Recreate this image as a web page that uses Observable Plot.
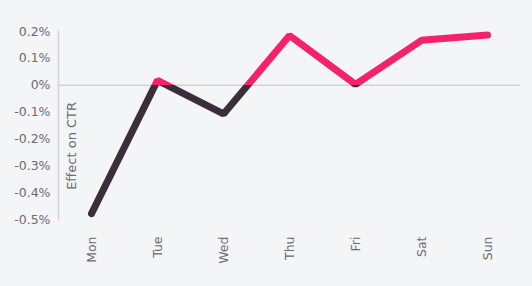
<!DOCTYPE html>
<html>
<head>
<meta charset="utf-8">
<script src="https://cdn.jsdelivr.net/npm/d3@7"></script>
<script src="https://cdn.jsdelivr.net/npm/@observablehq/plot@0.6"></script>
<style>
  html, body { margin: 0; padding: 0; background: #f4f5f7; }
  #chart { width: 532px; height: 286px; }
</style>
</head>
<body>
<div id="chart"></div>
<script>
const days = ["Mon", "Tue", "Wed", "Thu", "Fri", "Sat", "Sun"];
const effect = [-0.478, 0.018, -0.107, 0.185, 0.003, 0.167, 0.187];
const yTicks = [0.2, 0.1, 0, -0.1, -0.2, -0.3, -0.4, -0.5];
const yLabel = "Effect on CTR";

const data = days.map((d, i) => ({day: d, value: effect[i]}));

const chart = Plot.plot({
  width: 532,
  height: 286,
  marginLeft: 58,
  marginRight: 12,
  marginTop: 31,
  marginBottom: 67,
  style: {background: "#f4f5f7", fontFamily: "'DejaVu Sans', sans-serif", fontSize: "12.5px", color: "#6b6a75"},
  x: {type: "point", domain: days, padding: 0.5},
  y: {domain: [-0.5, 0.2]},
  marks: [
    Plot.ruleY([0], {stroke: "#d2d3d8", strokeWidth: 1.5}),
    Plot.axisY({ticks: yTicks, tickFormat: d => `${+d.toFixed(1)}%`, tickSize: 0, tickPadding: 8, label: null, fill: "#6b6a75"}),
    Plot.frame({anchor: "left", stroke: "#d2d3d8", strokeWidth: 1.5}),
    Plot.axisX({tickRotate: -90, tickSize: 0, tickPadding: 17, label: null, fill: "#6b6a75"}),
    Plot.text([yLabel], {frameAnchor: "left", textAnchor: "middle", y: [-0.226], dx: 13, rotate: -90, text: d => d, fill: "#6b6a75", fontSize: 13}),
    Plot.lineY(data, {x: "day", y: "value", stroke: "url(#ctrgrad)", strokeWidth: 7, strokeLinecap: "round", strokeLinejoin: "miter"})
  ]
});

// zero-split gradient from the y scale
const yScale = chart.scale("y");
const y0 = yScale.apply(0);
const yTop = yScale.apply(0.2);
const yBot = yScale.apply(-0.5);
const svg = d3.select(chart.tagName === "svg" ? chart : chart.querySelector("svg"));
const defs = svg.insert("defs", ":first-child");
const grad = defs.append("linearGradient")
  .attr("id", "ctrgrad")
  .attr("gradientUnits", "userSpaceOnUse")
  .attr("x1", 0).attr("x2", 0)
  .attr("y1", yTop).attr("y2", yBot);
const off = (y0 - yTop) / (yBot - yTop);
grad.append("stop").attr("offset", 0).attr("stop-color", "#f5226b");
grad.append("stop").attr("offset", off).attr("stop-color", "#f5226b");
grad.append("stop").attr("offset", off).attr("stop-color", "#3a2e3b");
grad.append("stop").attr("offset", 1).attr("stop-color", "#3a2e3b");

document.getElementById("chart").appendChild(chart);
</script>
</body>
</html>
